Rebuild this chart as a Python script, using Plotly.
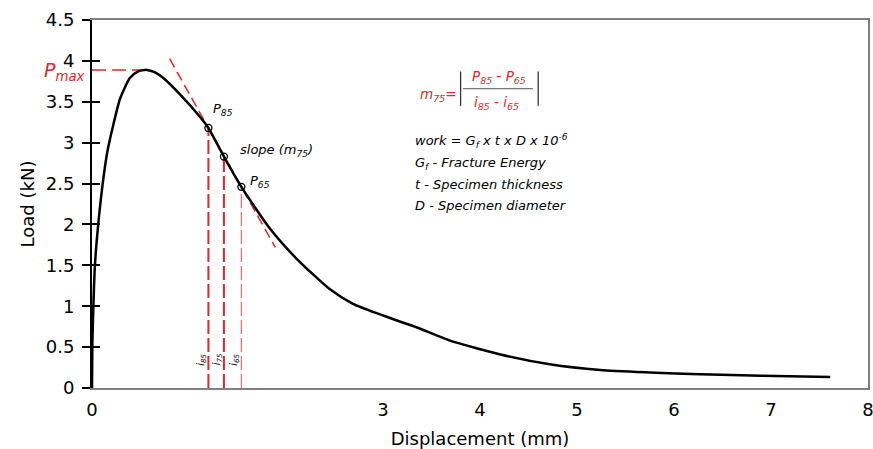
import plotly.graph_objects as go

# Load–displacement curve (mm, kN)
disp = [0.0, 0.004, 0.014, 0.03, 0.065, 0.117, 0.16, 0.22, 0.29, 0.39, 0.47, 0.564,
        0.65, 0.735, 0.907, 1.11, 1.20, 1.36, 1.54, 1.84, 2.11, 2.45, 2.69, 2.97,
        3.18, 3.35, 3.69, 4.21, 4.72, 5.24, 5.75, 6.27, 6.9, 7.61]
load = [0.0, 0.55, 1.0, 1.5, 2.01, 2.56, 2.9, 3.22, 3.54, 3.79, 3.87, 3.89,
        3.86, 3.79, 3.59, 3.32, 3.18, 2.83, 2.46, 1.94, 1.58, 1.21, 1.03, 0.90,
        0.81, 0.74, 0.58, 0.41, 0.29, 0.22, 0.19, 0.167, 0.15, 0.134]

# Characteristic points
p_max = 3.89
x_pmax = 0.564
i_pts = [1.20, 1.36, 1.54]          # i85, i75, i65
p_pts = [3.18, 2.83, 2.46]          # P85, P75, P65
tangent_x = [0.80, 1.89]

x_ticks = [0, 3, 4, 5, 6, 7, 8]
y_ticks = [0, 0.5, 1, 1.5, 2, 2.5, 3, 3.5, 4, 4.5]

RED = "#e3262b"
FONT = "DejaVu Sans"

slope = (p_pts[0] - p_pts[2]) / (i_pts[0] - i_pts[2])
tangent_y = [p_pts[0] + slope * (x - i_pts[0]) for x in tangent_x]

fig = go.Figure()

# Pmax reference line
fig.add_trace(go.Scatter(x=[0, x_pmax], y=[p_max, p_max], mode="lines",
                         line=dict(color=RED, width=1.5, dash="14px,6px"),
                         hoverinfo="skip", showlegend=False))
# tangent line (slope m75)
fig.add_trace(go.Scatter(x=tangent_x, y=tangent_y, mode="lines",
                         line=dict(color=RED, width=1.5, dash="10px,5px"),
                         hoverinfo="skip", showlegend=False))
# vertical drop lines to i85, i75, i65
for k, (xi, yi) in enumerate(zip(i_pts, p_pts)):
    fig.add_trace(go.Scatter(x=[xi, xi], y=[0, yi], mode="lines",
                             line=dict(color=RED if k < 2 else "#ee6a6c",
                                       width=2 if k < 2 else 1.2,
                                       dash="14px,4px"),
                             hoverinfo="skip", showlegend=False))

# main curve
fig.add_trace(go.Scatter(x=disp, y=load, mode="lines",
                         line=dict(color="black", width=2.5, shape="spline",
                                   smoothing=0.6),
                         showlegend=False))
# marked points
fig.add_trace(go.Scatter(x=i_pts, y=p_pts, mode="markers",
                         marker=dict(symbol="circle-open", size=7,
                                     color="black", line=dict(width=1.3)),
                         showlegend=False))

ann = []
def txt(x, y, t, size=12, color="black", xa="left", ya="middle", **kw):
    ann.append(dict(x=x, y=y, xref="x", yref="y", text=t, showarrow=False,
                    xanchor=xa, yanchor=ya,
                    font=dict(family=FONT, size=size, color=color), **kw))

txt(0, p_max, "<i>P<sub>max</sub></i>", size=19, color=RED, xa="right",
    xshift=-5, yshift=-2)
txt(1.227, 3.40, "<i>P<sub>85</sub></i>", size=13)
txt(1.505, 2.91, "<i>slope (m<sub>75</sub>)</i>", size=13)
txt(1.608, 2.52, "<i>P<sub>65</sub></i>", size=13)

for xi, lab in zip(i_pts, ["i<sub>85</sub>", "i<sub>75</sub>", "i<sub>65</sub>"]):
    txt(xi, 0.35, "<i>" + lab + "</i>", size=10, xa="center", textangle=-90,
        xshift=-7)

# m75 formula
txt(3.773, 3.58, "<i>m<sub>75</sub>=</i>", size=13.5, color=RED, xa="right")
txt(4.196, 3.80, "<i>P<sub>85</sub> - P<sub>65</sub></i>", size=13.5, color=RED,
    xa="center")
txt(4.175, 3.49, "<i>i<sub>85</sub> - i<sub>65</sub></i>", size=13.5, color=RED,
    xa="center")

# work definition
txt(3.309, 3.02, "<i>work = G<sub>f</sub> x t x D x 10<sup>-6</sup></i>", size=13)
txt(3.309, 2.74, "<i>G<sub>f</sub> - Fracture Energy</i>", size=13)
txt(3.309, 2.49, "<i>t - Specimen thickness</i>", size=13)
txt(3.309, 2.23, "<i>D - Specimen diameter</i>", size=13)

shapes = [
    dict(type="line", xref="x", yref="y", x0=3.825, x1=4.546, y0=3.66, y1=3.66,
         line=dict(color="#777777", width=1.2)),
    dict(type="line", xref="x", yref="y", x0=3.80, x1=3.80, y0=3.45, y1=3.87,
         line=dict(color="#333333", width=1.3)),
    dict(type="line", xref="x", yref="y", x0=4.60, x1=4.60, y0=3.45, y1=3.87,
         line=dict(color="#333333", width=1.3)),
]

axis_font = dict(family=FONT, size=18, color="black")

fig.update_layout(
    width=873, height=449,
    margin=dict(l=92, r=5, t=20, b=61),
    paper_bgcolor="white", plot_bgcolor="white",
    annotations=ann, shapes=shapes,
    xaxis=dict(range=[0, 8], tickvals=x_ticks, ticks="", showgrid=False,
               zeroline=False, showline=True, linecolor="#808080",
               linewidth=2, mirror=True, tickfont=axis_font,
               ticklabeloverflow="allow", ticklabelstandoff=4, automargin=False,
               title=dict(text="Displacement (mm)", font=axis_font, standoff=14)),
    yaxis=dict(range=[0, 4.5], tickvals=y_ticks, ticktext=["0", "0.5", "1", "1.5",
               "2", "2.5", "3", "3.5", "4", "4.5"], ticks="outside",
               ticklen=8, tickwidth=2, tickcolor="black", showgrid=False,
               zeroline=False, showline=True, linecolor="black", linewidth=2,
               tickfont=axis_font, ticklabelstandoff=4, automargin=False,
               title=dict(text="Load (kN)", font=axis_font, standoff=6)),
    yaxis2=dict(range=[0, 4.5], overlaying="y", side="right", anchor="x",
                showline=True, linecolor="#808080", linewidth=2,
                showticklabels=False, ticks="", showgrid=False, zeroline=False),
    yaxis3=dict(range=[0, 4.5], overlaying="y", side="left", anchor="x",
                tickvals=y_ticks, ticks="inside", ticklen=8, tickwidth=2,
                tickcolor="black", showticklabels=False, showline=False,
                showgrid=False, zeroline=False),
)
# invisible traces so the overlay axes are rendered
fig.add_trace(go.Scatter(x=[0], y=[0], yaxis="y2", mode="markers",
                         marker=dict(opacity=0), hoverinfo="skip",
                         showlegend=False))
fig.add_trace(go.Scatter(x=[0], y=[0], yaxis="y3", mode="markers",
                         marker=dict(opacity=0), hoverinfo="skip",
                         showlegend=False))

fig.write_html("out.html")
